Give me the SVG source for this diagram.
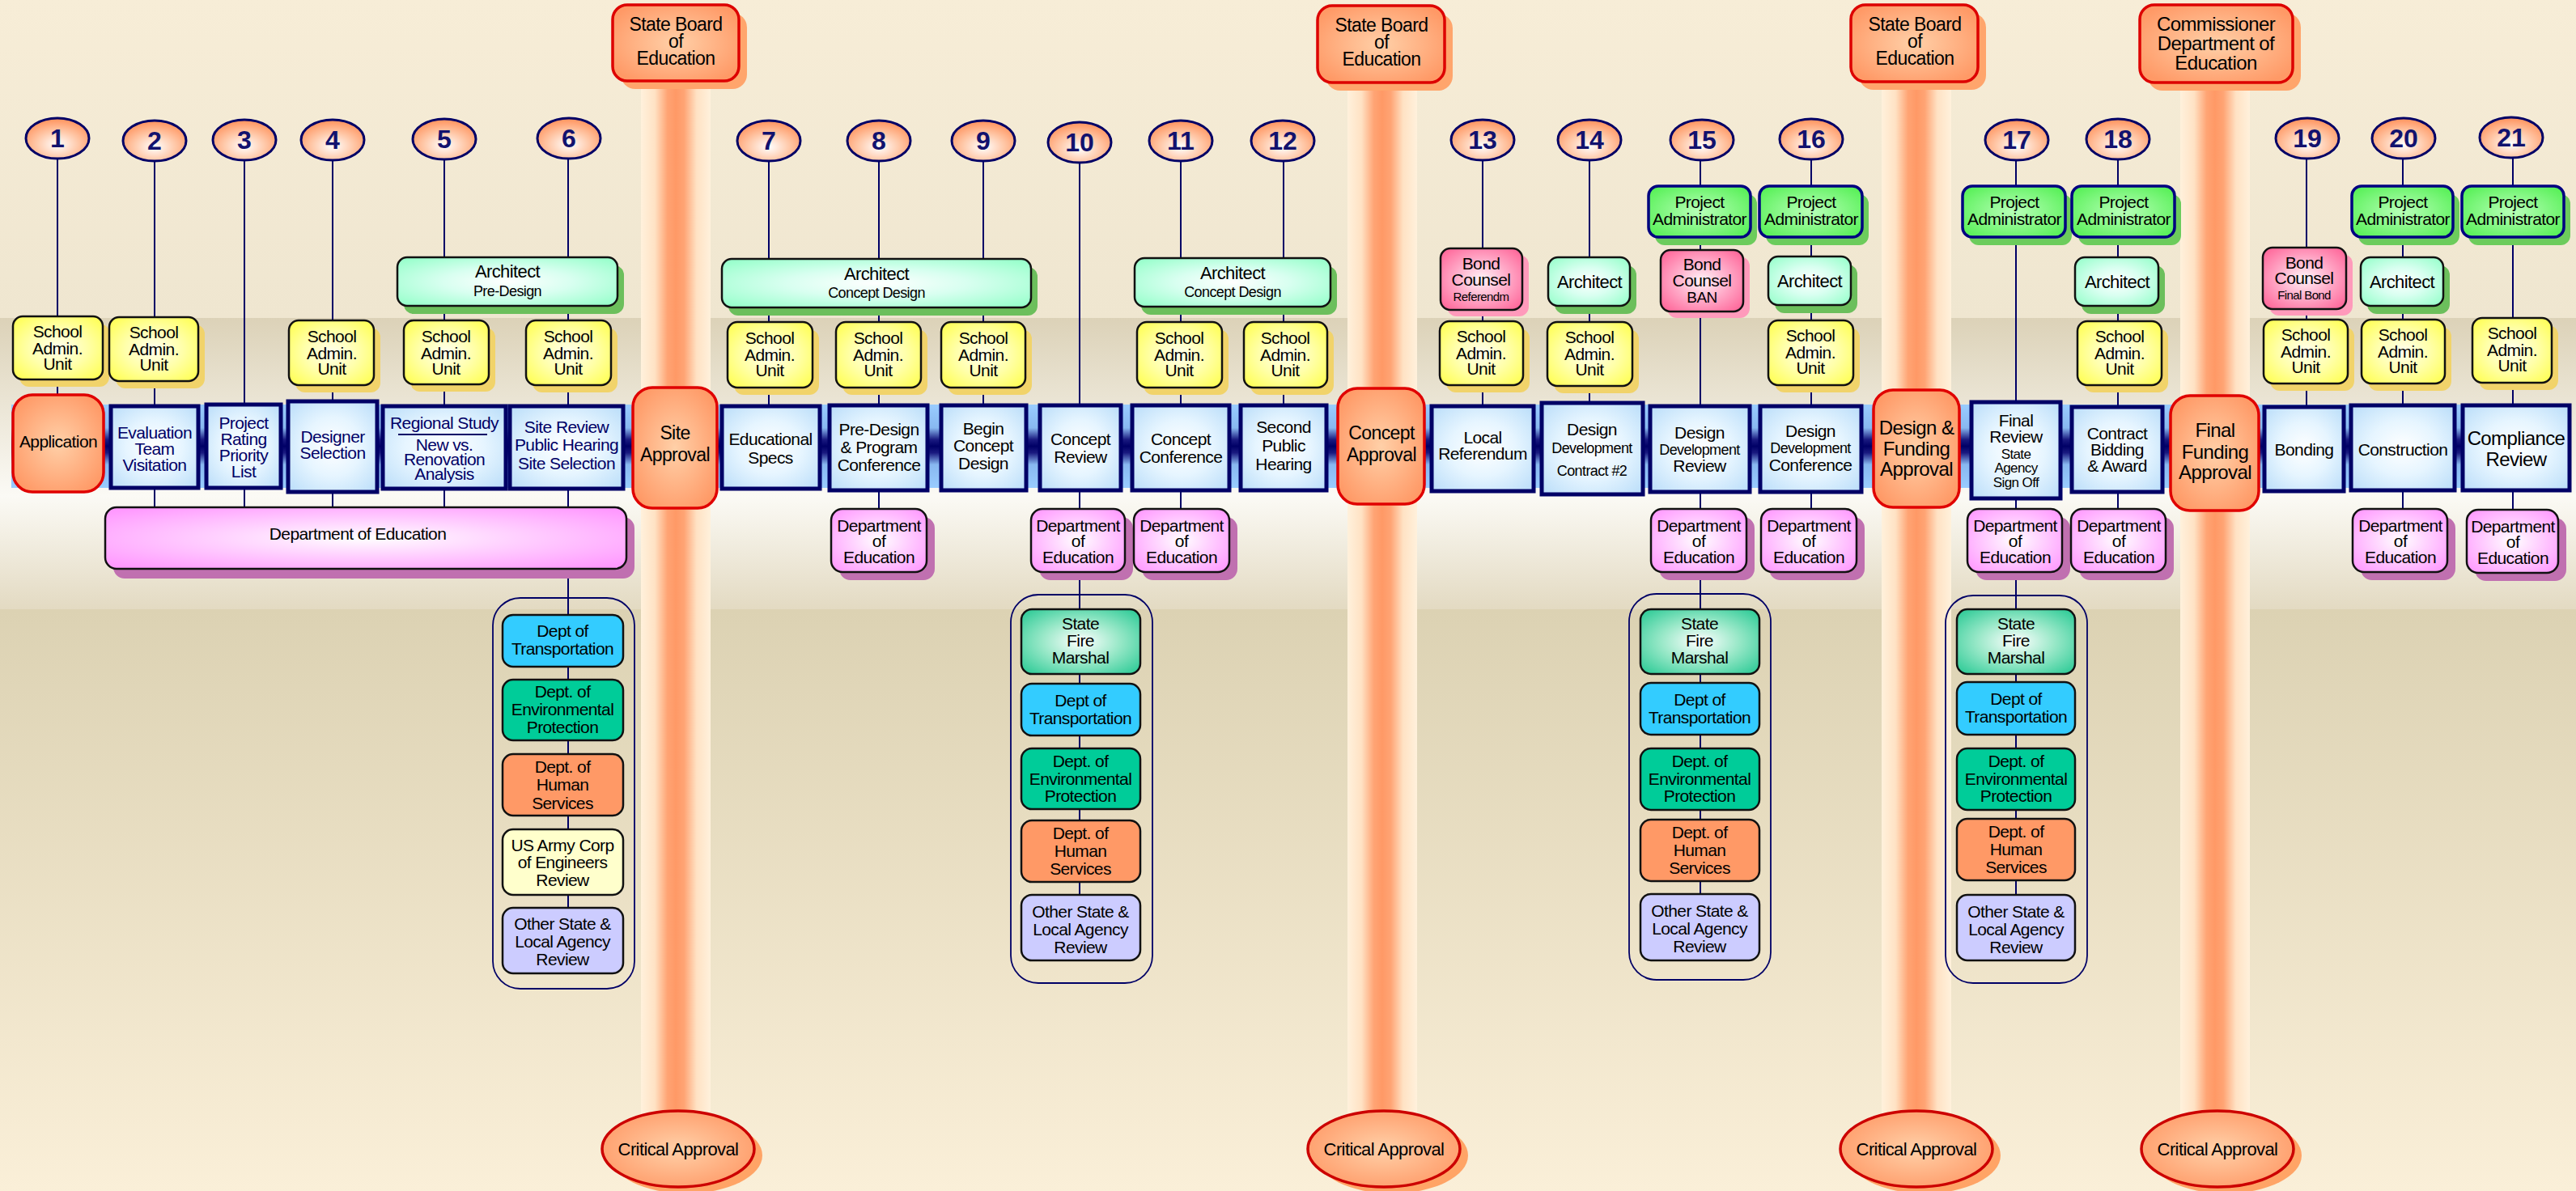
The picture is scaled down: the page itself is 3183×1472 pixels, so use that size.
<svg xmlns="http://www.w3.org/2000/svg" width="3183" height="1472" viewBox="0 0 3183 1472">
<defs>
<linearGradient id="bg1" x1="0" y1="0" x2="0" y2="1"><stop offset="0" stop-color="#f7edd7"/><stop offset="1" stop-color="#efe6d0"/></linearGradient>
<linearGradient id="bg2" x1="0" y1="0" x2="0" y2="1"><stop offset="0" stop-color="#dcd2b8"/><stop offset="1" stop-color="#fbfaf5"/></linearGradient>
<linearGradient id="bg3" x1="0" y1="0" x2="0" y2="1"><stop offset="0" stop-color="#fbfaf5"/><stop offset="1" stop-color="#e3dac2"/></linearGradient>
<linearGradient id="bg4" x1="0" y1="0" x2="0" y2="1"><stop offset="0" stop-color="#dcd2b3"/><stop offset="1" stop-color="#faefd8"/></linearGradient>
<linearGradient id="gPil" x1="0" y1="0" x2="1" y2="0"><stop offset="0" stop-color="#fff1dc"/><stop offset="0.2" stop-color="#ffe2c4"/><stop offset="0.38" stop-color="#ffa474"/><stop offset="0.5" stop-color="#ff9966"/><stop offset="0.62" stop-color="#ffa474"/><stop offset="0.8" stop-color="#ffe2c4"/><stop offset="1" stop-color="#fff1dc"/></linearGradient>
<linearGradient id="gBand" x1="0" y1="0" x2="0" y2="1"><stop offset="0" stop-color="#99ccff"/><stop offset="0.28" stop-color="#88b8f0"/><stop offset="0.42" stop-color="#1a1a80"/><stop offset="0.5" stop-color="#000066"/><stop offset="0.58" stop-color="#1a1a80"/><stop offset="0.72" stop-color="#88b8f0"/><stop offset="1" stop-color="#99ccff"/></linearGradient>
<radialGradient id="gY" cx="0.5" cy="0.5" r="0.65"><stop offset="0" stop-color="#ffffee"/><stop offset="0.5" stop-color="#ffffaa"/><stop offset="1" stop-color="#ffff55"/></radialGradient>
<radialGradient id="gA" cx="0.5" cy="0.5" r="0.65"><stop offset="0" stop-color="#ffffff"/><stop offset="0.45" stop-color="#d8fff0"/><stop offset="1" stop-color="#99ffcc"/></radialGradient>
<radialGradient id="gB" cx="0.5" cy="0.5" r="0.65"><stop offset="0" stop-color="#fff4f8"/><stop offset="0.5" stop-color="#ffaac8"/><stop offset="1" stop-color="#ff6699"/></radialGradient>
<radialGradient id="gP" cx="0.5" cy="0.5" r="0.65"><stop offset="0" stop-color="#b8ffb8"/><stop offset="1" stop-color="#55f055"/></radialGradient>
<radialGradient id="gL" cx="0.5" cy="0.5" r="0.65"><stop offset="0" stop-color="#ffffff"/><stop offset="0.5" stop-color="#e6f5ff"/><stop offset="1" stop-color="#bfe0fa"/></radialGradient>
<radialGradient id="gO" cx="0.5" cy="0.5" r="0.6"><stop offset="0" stop-color="#ffd0a8"/><stop offset="1" stop-color="#ff9966"/></radialGradient>
<radialGradient id="gD" cx="0.5" cy="0.5" r="0.65"><stop offset="0" stop-color="#ffffff"/><stop offset="0.45" stop-color="#ffd0ff"/><stop offset="1" stop-color="#ff99ff"/></radialGradient>
<radialGradient id="gF" cx="0.5" cy="0.5" r="0.65"><stop offset="0" stop-color="#ffffff"/><stop offset="0.5" stop-color="#99e8c8"/><stop offset="1" stop-color="#33cc99"/></radialGradient>
<radialGradient id="gC" cx="0.5" cy="0.65" r="0.6"><stop offset="0" stop-color="#ffffff"/><stop offset="0.55" stop-color="#ffc8a8"/><stop offset="1" stop-color="#ff9966"/></radialGradient>
</defs>
<style>
.t{font-family:"Liberation Sans",Arial,sans-serif;text-anchor:middle;letter-spacing:-0.6px;fill:#000}
.f15{font-size:15px}.f17{font-size:17px}.f18{font-size:18px}.f19{font-size:19px}.f21{font-size:21px}.f22{font-size:22px}.f23{font-size:23px}.f24{font-size:24px}
.nv{fill:#000066}
.num{font-family:"Liberation Sans",Arial,sans-serif;font-weight:bold;font-size:32px;text-anchor:middle;fill:#12126e}
.circ{fill:url(#gC);stroke:#000066;stroke-width:3}
.cn line{stroke:#000066;stroke-width:2}
.sau{fill:url(#gY);stroke:#111;stroke-width:2.5}
.sauS{fill:#f1d36a}
.arc{fill:url(#gA);stroke:#111;stroke-width:2.5}
.arcS{fill:#6cbf5c}
.bnd{fill:url(#gB);stroke:#111;stroke-width:2.5}
.bndS{fill:#ff9abb}
.pa{fill:url(#gP);stroke:#000080;stroke-width:3.5}
.paS{fill:#6ccc5c}
.lane{fill:url(#gL);stroke:#000066;stroke-width:5}
.appr{fill:url(#gO);stroke:#e00000;stroke-width:3.5}
.doe{fill:url(#gD);stroke:#111;stroke-width:2.5}
.doeS{fill:#c070b0}
.box{stroke:#111;stroke-width:2.5}
.cont{fill:none;stroke:#000066;stroke-width:1.8}
.sbe{fill:url(#gO);stroke:#dd0000;stroke-width:3.5}
.sbeS{fill:#ffa56c}
.crit{fill:url(#gO);stroke:#cc0000;stroke-width:3.5}
.critS{fill:#ffa466}
</style>

<!-- background -->
<rect x="0" y="0" width="3183" height="393" fill="url(#bg1)"/>
<rect x="0" y="393" width="3183" height="220" fill="url(#bg2)"/>
<rect x="0" y="613" width="3183" height="140" fill="url(#bg3)"/>
<rect x="0" y="753" width="3183" height="719" fill="url(#bg4)"/>

<!-- approval pillars -->
<g id="pillars">
<rect x="792" y="95" width="86" height="1300" fill="url(#gPil)"/>
<rect x="1665" y="95" width="86" height="1300" fill="url(#gPil)"/>
<rect x="2325" y="95" width="86" height="1300" fill="url(#gPil)"/>
<rect x="2694" y="95" width="86" height="1300" fill="url(#gPil)"/>
</g>

<!-- process lane -->
<rect id="lane-band" x="14" y="500" width="3162" height="103" fill="url(#gBand)"/>

<g id="connectors" class="cn">
<line x1="71" y1="196" x2="71" y2="490"/>
<line x1="191" y1="199" x2="191" y2="628"/>
<line x1="302" y1="198" x2="302" y2="628"/>
<line x1="411" y1="198" x2="411" y2="628"/>
<line x1="549" y1="197" x2="549" y2="628"/>
<line x1="702" y1="196" x2="702" y2="1123"/>
<line x1="950" y1="199" x2="950" y2="503"/>
<line x1="1086" y1="199" x2="1086" y2="630"/>
<line x1="1215" y1="199" x2="1215" y2="502"/>
<line x1="1334" y1="201" x2="1334" y2="1107"/>
<line x1="1459" y1="199" x2="1459" y2="630"/>
<line x1="1586" y1="199" x2="1586" y2="503"/>
<line x1="1832" y1="198" x2="1832" y2="503"/>
<line x1="1964" y1="198" x2="1964" y2="499"/>
<line x1="2101" y1="198" x2="2101" y2="1106"/>
<line x1="2238" y1="197" x2="2238" y2="630"/>
<line x1="2491" y1="198" x2="2491" y2="1107"/>
<line x1="2617" y1="197" x2="2617" y2="630"/>
<line x1="2850" y1="196" x2="2850" y2="504"/>
<line x1="2969" y1="196" x2="2969" y2="630"/>
<line x1="3105" y1="195" x2="3105" y2="631"/>
</g>

<!-- critical approval authorities -->
<g id="sbe1"><rect class="sbeS" x="767" y="16" width="156" height="94" rx="18"/><rect class="sbe" x="757" y="6" width="156" height="94" rx="18"/>
<text class="t f23"><tspan x="835" y="38">State Board</tspan><tspan x="835" y="59">of</tspan><tspan x="835" y="80">Education</tspan></text></g>
<g id="sbe2"><rect class="sbeS" x="1638" y="17" width="157" height="95" rx="18"/><rect class="sbe" x="1628" y="7" width="157" height="95" rx="18"/>
<text class="t f23"><tspan x="1707" y="39">State Board</tspan><tspan x="1707" y="60">of</tspan><tspan x="1707" y="81">Education</tspan></text></g>
<g id="sbe3"><rect class="sbeS" x="2297" y="16" width="157" height="95" rx="18"/><rect class="sbe" x="2287" y="6" width="157" height="95" rx="18"/>
<text class="t f23"><tspan x="2366" y="38">State Board</tspan><tspan x="2366" y="59">of</tspan><tspan x="2366" y="80">Education</tspan></text></g>
<g id="commissioner"><rect class="sbeS" x="2654" y="16" width="189" height="96" rx="18"/><rect class="sbe" x="2644" y="6" width="189" height="96" rx="18"/>
<text class="t f24"><tspan x="2738" y="38">Commissioner</tspan><tspan x="2738" y="62">Department of</tspan><tspan x="2738" y="86">Education</tspan></text></g>

<g id="crit1"><ellipse class="critS" cx="848" cy="1428" rx="94" ry="47"/><ellipse class="crit" cx="838" cy="1420" rx="94" ry="47"/><text class="t f22" x="838" y="1428">Critical Approval</text></g>
<g id="crit2"><ellipse class="critS" cx="1720" cy="1428" rx="94" ry="47"/><ellipse class="crit" cx="1710" cy="1420" rx="94" ry="47"/><text class="t f22" x="1710" y="1428">Critical Approval</text></g>
<g id="crit3"><ellipse class="critS" cx="2378" cy="1428" rx="94" ry="47"/><ellipse class="crit" cx="2368" cy="1420" rx="94" ry="47"/><text class="t f22" x="2368" y="1428">Critical Approval</text></g>
<g id="crit4"><ellipse class="critS" cx="2750" cy="1428" rx="94" ry="47"/><ellipse class="crit" cx="2740" cy="1420" rx="94" ry="47"/><text class="t f22" x="2740" y="1428">Critical Approval</text></g>

<!-- step numbers -->
<g id="step1"><ellipse class="circ" cx="71" cy="171" rx="39" ry="25"/><text class="num" x="71" y="182">1</text></g>
<g id="step2"><ellipse class="circ" cx="191" cy="174" rx="39" ry="25"/><text class="num" x="191" y="185">2</text></g>
<g id="step3"><ellipse class="circ" cx="302" cy="173" rx="39" ry="25"/><text class="num" x="302" y="184">3</text></g>
<g id="step4"><ellipse class="circ" cx="411" cy="173" rx="39" ry="25"/><text class="num" x="411" y="184">4</text></g>
<g id="step5"><ellipse class="circ" cx="549" cy="172" rx="39" ry="25"/><text class="num" x="549" y="183">5</text></g>
<g id="step6"><ellipse class="circ" cx="703" cy="171" rx="39" ry="25"/><text class="num" x="703" y="182">6</text></g>
<g id="step7"><ellipse class="circ" cx="950" cy="174" rx="39" ry="25"/><text class="num" x="950" y="185">7</text></g>
<g id="step8"><ellipse class="circ" cx="1086" cy="174" rx="39" ry="25"/><text class="num" x="1086" y="185">8</text></g>
<g id="step9"><ellipse class="circ" cx="1215" cy="174" rx="39" ry="25"/><text class="num" x="1215" y="185">9</text></g>
<g id="step10"><ellipse class="circ" cx="1334" cy="176" rx="39" ry="25"/><text class="num" x="1334" y="187">10</text></g>
<g id="step11"><ellipse class="circ" cx="1459" cy="174" rx="39" ry="25"/><text class="num" x="1459" y="185">11</text></g>
<g id="step12"><ellipse class="circ" cx="1585" cy="174" rx="39" ry="25"/><text class="num" x="1585" y="185">12</text></g>
<g id="step13"><ellipse class="circ" cx="1832" cy="173" rx="39" ry="25"/><text class="num" x="1832" y="184">13</text></g>
<g id="step14"><ellipse class="circ" cx="1964" cy="173" rx="39" ry="25"/><text class="num" x="1964" y="184">14</text></g>
<g id="step15"><ellipse class="circ" cx="2103" cy="173" rx="39" ry="25"/><text class="num" x="2103" y="184">15</text></g>
<g id="step16"><ellipse class="circ" cx="2238" cy="172" rx="39" ry="25"/><text class="num" x="2238" y="183">16</text></g>
<g id="step17"><ellipse class="circ" cx="2492" cy="173" rx="39" ry="25"/><text class="num" x="2492" y="184">17</text></g>
<g id="step18"><ellipse class="circ" cx="2617" cy="172" rx="39" ry="25"/><text class="num" x="2617" y="183">18</text></g>
<g id="step19"><ellipse class="circ" cx="2851" cy="171" rx="39" ry="25"/><text class="num" x="2851" y="182">19</text></g>
<g id="step20"><ellipse class="circ" cx="2970" cy="171" rx="39" ry="25"/><text class="num" x="2970" y="182">20</text></g>
<g id="step21"><ellipse class="circ" cx="3103" cy="170" rx="39" ry="25"/><text class="num" x="3103" y="181">21</text></g>

<!-- project administrators -->
<g id="pa15"><rect class="paS" x="2045" y="240" width="126" height="63" rx="12"/><rect class="pa" x="2037" y="230" width="126" height="63" rx="12"/><text class="t f21"><tspan x="2100" y="257">Project</tspan><tspan x="2100" y="278">Administrator</tspan></text></g>
<g id="pa16"><rect class="paS" x="2182" y="240" width="127" height="63" rx="12"/><rect class="pa" x="2174" y="230" width="127" height="63" rx="12"/><text class="t f21"><tspan x="2238" y="257">Project</tspan><tspan x="2238" y="278">Administrator</tspan></text></g>
<g id="pa17"><rect class="paS" x="2433" y="240" width="127" height="63" rx="12"/><rect class="pa" x="2425" y="230" width="127" height="63" rx="12"/><text class="t f21"><tspan x="2489" y="257">Project</tspan><tspan x="2489" y="278">Administrator</tspan></text></g>
<g id="pa18"><rect class="paS" x="2568" y="240" width="127" height="63" rx="12"/><rect class="pa" x="2560" y="230" width="127" height="63" rx="12"/><text class="t f21"><tspan x="2624" y="257">Project</tspan><tspan x="2624" y="278">Administrator</tspan></text></g>
<g id="pa20"><rect class="paS" x="2914" y="240" width="125" height="63" rx="12"/><rect class="pa" x="2906" y="230" width="125" height="63" rx="12"/><text class="t f21"><tspan x="2969" y="257">Project</tspan><tspan x="2969" y="278">Administrator</tspan></text></g>
<g id="pa21"><rect class="paS" x="3050" y="240" width="126" height="63" rx="12"/><rect class="pa" x="3042" y="230" width="126" height="63" rx="12"/><text class="t f21"><tspan x="3105" y="257">Project</tspan><tspan x="3105" y="278">Administrator</tspan></text></g>

<!-- bond counsel -->
<g id="bond13"><rect class="bndS" x="1788" y="315" width="101" height="76" rx="12"/><rect class="bnd" x="1780" y="307" width="101" height="76" rx="12"/><text class="t"><tspan class="f21" x="1830" y="333">Bond</tspan><tspan class="f21" x="1830" y="353">Counsel</tspan><tspan class="f15" x="1830" y="372">Referendm</tspan></text></g>
<g id="bond15"><rect class="bndS" x="2060" y="317" width="102" height="76" rx="12"/><rect class="bnd" x="2052" y="309" width="102" height="76" rx="12"/><text class="t"><tspan class="f21" x="2103" y="334">Bond</tspan><tspan class="f21" x="2103" y="354">Counsel</tspan><tspan class="f19" x="2103" y="374">BAN</tspan></text></g>
<g id="bond19"><rect class="bndS" x="2804" y="314" width="103" height="76" rx="12"/><rect class="bnd" x="2796" y="306" width="103" height="76" rx="12"/><text class="t"><tspan class="f21" x="2847" y="332">Bond</tspan><tspan class="f21" x="2847" y="351">Counsel</tspan><tspan class="f15" x="2847" y="370">Final Bond</tspan></text></g>

<!-- architects -->
<g id="arch-predesign"><rect class="arcS" x="499" y="328" width="272" height="60" rx="12"/><rect class="arc" x="491" y="318" width="272" height="60" rx="12"/><text class="t"><tspan class="f22" x="627" y="343">Architect</tspan><tspan class="f18" x="627" y="366">Pre-Design</tspan></text></g>
<g id="arch-concept1"><rect class="arcS" x="900" y="330" width="382" height="60" rx="12"/><rect class="arc" x="892" y="320" width="382" height="60" rx="12"/><text class="t"><tspan class="f22" x="1083" y="346">Architect</tspan><tspan class="f18" x="1083" y="368">Concept Design</tspan></text></g>
<g id="arch-concept2"><rect class="arcS" x="1410" y="329" width="242" height="60" rx="12"/><rect class="arc" x="1402" y="319" width="242" height="60" rx="12"/><text class="t"><tspan class="f22" x="1523" y="345">Architect</tspan><tspan class="f18" x="1523" y="367">Concept Design</tspan></text></g>
<g id="arch14"><rect class="arcS" x="1921" y="328" width="101" height="60" rx="12"/><rect class="arc" x="1913" y="318" width="101" height="60" rx="12"/><text class="t f22" x="1964" y="356">Architect</text></g>
<g id="arch16"><rect class="arcS" x="2193" y="327" width="102" height="60" rx="12"/><rect class="arc" x="2185" y="317" width="102" height="60" rx="12"/><text class="t f22" x="2236" y="355">Architect</text></g>
<g id="arch18"><rect class="arcS" x="2572" y="328" width="103" height="60" rx="12"/><rect class="arc" x="2564" y="318" width="103" height="60" rx="12"/><text class="t f22" x="2616" y="356">Architect</text></g>
<g id="arch20"><rect class="arcS" x="2925" y="328" width="102" height="60" rx="12"/><rect class="arc" x="2917" y="318" width="102" height="60" rx="12"/><text class="t f22" x="2968" y="356">Architect</text></g>

<!-- school administrative units -->
<g id="sau1"><rect class="sauS" x="24" y="400" width="111" height="78" rx="12"/><rect class="sau" x="16" y="391" width="111" height="78" rx="12"/><text class="t f21"><tspan x="71" y="417">School</tspan><tspan x="71" y="438">Admin.</tspan><tspan x="71" y="457">Unit</tspan></text></g>
<g id="sau2"><rect class="sauS" x="143" y="401" width="110" height="79" rx="12"/><rect class="sau" x="135" y="392" width="110" height="79" rx="12"/><text class="t f21"><tspan x="190" y="418">School</tspan><tspan x="190" y="439">Admin.</tspan><tspan x="190" y="458">Unit</tspan></text></g>
<g id="sau4"><rect class="sauS" x="365" y="405" width="105" height="80" rx="12"/><rect class="sau" x="357" y="396" width="105" height="80" rx="12"/><text class="t f21"><tspan x="410" y="423">School</tspan><tspan x="410" y="444">Admin.</tspan><tspan x="410" y="463">Unit</tspan></text></g>
<g id="sau5"><rect class="sauS" x="507" y="405" width="105" height="79" rx="12"/><rect class="sau" x="499" y="396" width="105" height="79" rx="12"/><text class="t f21"><tspan x="551" y="423">School</tspan><tspan x="551" y="444">Admin.</tspan><tspan x="551" y="463">Unit</tspan></text></g>
<g id="sau6"><rect class="sauS" x="658" y="405" width="105" height="80" rx="12"/><rect class="sau" x="650" y="396" width="105" height="80" rx="12"/><text class="t f21"><tspan x="702" y="423">School</tspan><tspan x="702" y="444">Admin.</tspan><tspan x="702" y="463">Unit</tspan></text></g>
<g id="sau7"><rect class="sauS" x="907" y="407" width="105" height="81" rx="12"/><rect class="sau" x="899" y="398" width="105" height="81" rx="12"/><text class="t f21"><tspan x="951" y="425">School</tspan><tspan x="951" y="446">Admin.</tspan><tspan x="951" y="465">Unit</tspan></text></g>
<g id="sau8"><rect class="sauS" x="1041" y="407" width="105" height="81" rx="12"/><rect class="sau" x="1033" y="398" width="105" height="81" rx="12"/><text class="t f21"><tspan x="1085" y="425">School</tspan><tspan x="1085" y="446">Admin.</tspan><tspan x="1085" y="465">Unit</tspan></text></g>
<g id="sau9"><rect class="sauS" x="1171" y="407" width="104" height="81" rx="12"/><rect class="sau" x="1163" y="398" width="104" height="81" rx="12"/><text class="t f21"><tspan x="1215" y="425">School</tspan><tspan x="1215" y="446">Admin.</tspan><tspan x="1215" y="465">Unit</tspan></text></g>
<g id="sau11"><rect class="sauS" x="1413" y="407" width="105" height="81" rx="12"/><rect class="sau" x="1405" y="398" width="105" height="81" rx="12"/><text class="t f21"><tspan x="1457" y="425">School</tspan><tspan x="1457" y="446">Admin.</tspan><tspan x="1457" y="465">Unit</tspan></text></g>
<g id="sau12"><rect class="sauS" x="1545" y="407" width="103" height="81" rx="12"/><rect class="sau" x="1537" y="398" width="103" height="81" rx="12"/><text class="t f21"><tspan x="1588" y="425">School</tspan><tspan x="1588" y="446">Admin.</tspan><tspan x="1588" y="465">Unit</tspan></text></g>
<g id="sau13"><rect class="sauS" x="1787" y="406" width="103" height="79" rx="12"/><rect class="sau" x="1779" y="397" width="103" height="79" rx="12"/><text class="t f21"><tspan x="1830" y="423">School</tspan><tspan x="1830" y="444">Admin.</tspan><tspan x="1830" y="463">Unit</tspan></text></g>
<g id="sau14"><rect class="sauS" x="1920" y="407" width="105" height="79" rx="12"/><rect class="sau" x="1912" y="398" width="105" height="79" rx="12"/><text class="t f21"><tspan x="1964" y="424">School</tspan><tspan x="1964" y="445">Admin.</tspan><tspan x="1964" y="464">Unit</tspan></text></g>
<g id="sau16"><rect class="sauS" x="2193" y="405" width="105" height="80" rx="12"/><rect class="sau" x="2185" y="396" width="105" height="80" rx="12"/><text class="t f21"><tspan x="2237" y="422">School</tspan><tspan x="2237" y="443">Admin.</tspan><tspan x="2237" y="462">Unit</tspan></text></g>
<g id="sau18"><rect class="sauS" x="2575" y="406" width="104" height="79" rx="12"/><rect class="sau" x="2567" y="397" width="104" height="79" rx="12"/><text class="t f21"><tspan x="2619" y="423">School</tspan><tspan x="2619" y="444">Admin.</tspan><tspan x="2619" y="463">Unit</tspan></text></g>
<g id="sau19"><rect class="sauS" x="2805" y="404" width="104" height="79" rx="12"/><rect class="sau" x="2797" y="395" width="104" height="79" rx="12"/><text class="t f21"><tspan x="2849" y="421">School</tspan><tspan x="2849" y="442">Admin.</tspan><tspan x="2849" y="461">Unit</tspan></text></g>
<g id="sau20"><rect class="sauS" x="2926" y="404" width="103" height="79" rx="12"/><rect class="sau" x="2918" y="395" width="103" height="79" rx="12"/><text class="t f21"><tspan x="2969" y="421">School</tspan><tspan x="2969" y="442">Admin.</tspan><tspan x="2969" y="461">Unit</tspan></text></g>
<g id="sau21"><rect class="sauS" x="3063" y="402" width="98" height="80" rx="12"/><rect class="sau" x="3055" y="393" width="98" height="80" rx="12"/><text class="t f21"><tspan x="3104" y="419">School</tspan><tspan x="3104" y="440">Admin.</tspan><tspan x="3104" y="459">Unit</tspan></text></g>

<!-- approvals on the lane -->
<g id="application"><rect class="appr" x="16" y="488" width="112" height="120" rx="24"/><text class="t f21" x="72" y="553">Application</text></g>
<g id="site-approval"><rect class="appr" x="782" y="479" width="104" height="149" rx="24"/><text class="t f23"><tspan x="834" y="543">Site</tspan><tspan x="834" y="570">Approval</tspan></text></g>
<g id="concept-approval"><rect class="appr" x="1653" y="480" width="107" height="143" rx="24"/><text class="t f23"><tspan x="1707" y="543">Concept</tspan><tspan x="1707" y="570">Approval</tspan></text></g>
<g id="design-funding-approval"><rect class="appr" x="2315" y="482" width="106" height="145" rx="24"/><text class="t f24"><tspan x="2368" y="537">Design &amp;</tspan><tspan x="2368" y="563">Funding</tspan><tspan x="2368" y="588">Approval</tspan></text></g>
<g id="final-funding-approval"><rect class="appr" x="2682" y="489" width="109" height="142" rx="24"/><text class="t f24"><tspan x="2737" y="540">Final</tspan><tspan x="2737" y="567">Funding</tspan><tspan x="2737" y="592">Approval</tspan></text></g>

<!-- lane process steps -->
<g id="evaluation"><rect class="lane" x="137" y="502" width="108" height="101"/><text class="t f21 nv"><tspan x="191" y="542">Evaluation</tspan><tspan x="191" y="562">Team</tspan><tspan x="191" y="582">Visitation</tspan></text></g>
<g id="priority-list"><rect class="lane" x="255" y="500" width="92" height="103"/><text class="t f21 nv"><tspan x="301" y="530">Project</tspan><tspan x="301" y="550">Rating</tspan><tspan x="301" y="570">Priority</tspan><tspan x="301" y="590">List</tspan></text></g>
<g id="designer-selection"><rect class="lane" x="356" y="496" width="110" height="112"/><text class="t f21 nv"><tspan x="411" y="547">Designer</tspan><tspan x="411" y="567">Selection</tspan></text></g>
<g id="regional-study"><rect class="lane" x="473" y="502" width="152" height="102"/><text class="t f21 nv"><tspan x="549" y="530">Regional Study</tspan><tspan x="549" y="557">New vs.</tspan><tspan x="549" y="575">Renovation</tspan><tspan x="549" y="593">Analysis</tspan></text><line x1="492" y1="537" x2="602" y2="537" stroke="#000066" stroke-width="2"/></g>
<g id="site-review"><rect class="lane" x="630" y="502" width="140" height="102"/><text class="t f21 nv"><tspan x="700" y="535">Site Review</tspan><tspan x="700" y="557">Public Hearing</tspan><tspan x="700" y="580">Site Selection</tspan></text></g>
<g id="educational-specs"><rect class="lane" x="892" y="502" width="121" height="102"/><text class="t f21"><tspan x="952" y="550">Educational</tspan><tspan x="952" y="573">Specs</tspan></text></g>
<g id="pre-design"><rect class="lane" x="1025" y="501" width="121" height="105"/><text class="t f21"><tspan x="1086" y="538">Pre-Design</tspan><tspan x="1086" y="560">&amp; Program</tspan><tspan x="1086" y="582">Conference</tspan></text></g>
<g id="begin-concept"><rect class="lane" x="1163" y="501" width="105" height="105"/><text class="t f21"><tspan x="1215" y="537">Begin</tspan><tspan x="1215" y="558">Concept</tspan><tspan x="1215" y="580">Design</tspan></text></g>
<g id="concept-review"><rect class="lane" x="1285" y="501" width="100" height="105"/><text class="t f21"><tspan x="1335" y="550">Concept</tspan><tspan x="1335" y="572">Review</tspan></text></g>
<g id="concept-conference"><rect class="lane" x="1399" y="501" width="120" height="105"/><text class="t f21"><tspan x="1459" y="550">Concept</tspan><tspan x="1459" y="572">Conference</tspan></text></g>
<g id="second-hearing"><rect class="lane" x="1533" y="501" width="106" height="105"/><text class="t f21"><tspan x="1586" y="535">Second</tspan><tspan x="1586" y="558">Public</tspan><tspan x="1586" y="581">Hearing</tspan></text></g>
<g id="local-referendum"><rect class="lane" x="1769" y="502" width="126" height="105"/><text class="t f21"><tspan x="1832" y="548">Local</tspan><tspan x="1832" y="568">Referendum</tspan></text></g>
<g id="dd-contract"><rect class="lane" x="1905" y="498" width="125" height="113"/><text class="t"><tspan class="f21" x="1967" y="538">Design</tspan><tspan class="f18" x="1967" y="560">Development</tspan><tspan class="f18" x="1967" y="588">Contract #2</tspan></text></g>
<g id="dd-review"><rect class="lane" x="2039" y="502" width="123" height="106"/><text class="t"><tspan class="f21" x="2100" y="542">Design</tspan><tspan class="f18" x="2100" y="562">Development</tspan><tspan class="f21" x="2100" y="583">Review</tspan></text></g>
<g id="dd-conference"><rect class="lane" x="2175" y="502" width="125" height="106"/><text class="t"><tspan class="f21" x="2237" y="540">Design</tspan><tspan class="f18" x="2237" y="560">Development</tspan><tspan class="f21" x="2237" y="582">Conference</tspan></text></g>
<g id="final-review"><rect class="lane" x="2436" y="497" width="110" height="119"/><text class="t"><tspan class="f21" x="2491" y="527">Final</tspan><tspan class="f21" x="2491" y="547">Review</tspan><tspan class="f17" x="2491" y="567">State</tspan><tspan class="f17" x="2491" y="584">Agency</tspan><tspan class="f17" x="2491" y="602">Sign Off</tspan></text></g>
<g id="contract-bidding"><rect class="lane" x="2560" y="503" width="112" height="105"/><text class="t f21"><tspan x="2616" y="543">Contract</tspan><tspan x="2616" y="563">Bidding</tspan><tspan x="2616" y="583">&amp; Award</tspan></text></g>
<g id="bonding"><rect class="lane" x="2798" y="503" width="98" height="104"/><text class="t f21" x="2847" y="563">Bonding</text></g>
<g id="construction"><rect class="lane" x="2905" y="501" width="128" height="105"/><text class="t f21" x="2969" y="563">Construction</text></g>
<g id="compliance-review"><rect class="lane" x="3043" y="501" width="132" height="105"/><text class="t f24"><tspan x="3109" y="550">Compliance</tspan><tspan x="3109" y="576">Review</tspan></text></g>

<!-- Department of Education -->
<g id="doe-main"><rect class="doeS" x="140" y="639" width="644" height="76" rx="14"/><rect class="doe" x="130" y="627" width="644" height="76" rx="14"/><text class="t f21" x="442" y="667">Department of Education</text></g>
<g id="doe8"><rect class="doeS" x="1037" y="639" width="118" height="78" rx="14"/><rect class="doe" x="1027" y="629" width="118" height="78" rx="14"/><text class="t f21"><tspan x="1086" y="657">Department</tspan><tspan x="1086" y="676">of</tspan><tspan x="1086" y="696">Education</tspan></text></g>
<g id="doe10"><rect class="doeS" x="1284" y="639" width="116" height="78" rx="14"/><rect class="doe" x="1274" y="629" width="116" height="78" rx="14"/><text class="t f21"><tspan x="1332" y="657">Department</tspan><tspan x="1332" y="676">of</tspan><tspan x="1332" y="696">Education</tspan></text></g>
<g id="doe11"><rect class="doeS" x="1411" y="639" width="118" height="78" rx="14"/><rect class="doe" x="1401" y="629" width="118" height="78" rx="14"/><text class="t f21"><tspan x="1460" y="657">Department</tspan><tspan x="1460" y="676">of</tspan><tspan x="1460" y="696">Education</tspan></text></g>
<g id="doe15"><rect class="doeS" x="2050" y="639" width="118" height="78" rx="14"/><rect class="doe" x="2040" y="629" width="118" height="78" rx="14"/><text class="t f21"><tspan x="2099" y="657">Department</tspan><tspan x="2099" y="676">of</tspan><tspan x="2099" y="696">Education</tspan></text></g>
<g id="doe16"><rect class="doeS" x="2186" y="639" width="118" height="78" rx="14"/><rect class="doe" x="2176" y="629" width="118" height="78" rx="14"/><text class="t f21"><tspan x="2235" y="657">Department</tspan><tspan x="2235" y="676">of</tspan><tspan x="2235" y="696">Education</tspan></text></g>
<g id="doe17"><rect class="doeS" x="2441" y="639" width="117" height="78" rx="14"/><rect class="doe" x="2431" y="629" width="117" height="78" rx="14"/><text class="t f21"><tspan x="2490" y="657">Department</tspan><tspan x="2490" y="676">of</tspan><tspan x="2490" y="696">Education</tspan></text></g>
<g id="doe18"><rect class="doeS" x="2569" y="639" width="117" height="78" rx="14"/><rect class="doe" x="2559" y="629" width="117" height="78" rx="14"/><text class="t f21"><tspan x="2618" y="657">Department</tspan><tspan x="2618" y="676">of</tspan><tspan x="2618" y="696">Education</tspan></text></g>
<g id="doe20"><rect class="doeS" x="2917" y="639" width="117" height="78" rx="14"/><rect class="doe" x="2907" y="629" width="117" height="78" rx="14"/><text class="t f21"><tspan x="2966" y="657">Department</tspan><tspan x="2966" y="676">of</tspan><tspan x="2966" y="696">Education</tspan></text></g>
<g id="doe21"><rect class="doeS" x="3058" y="640" width="113" height="78" rx="14"/><rect class="doe" x="3048" y="630" width="113" height="78" rx="14"/><text class="t f21"><tspan x="3105" y="658">Department</tspan><tspan x="3105" y="677">of</tspan><tspan x="3105" y="697">Education</tspan></text></g>

<!-- agency review stacks -->
<g id="stack-site">
<rect class="cont" x="609" y="739" width="175" height="483" rx="34"/>
<rect class="box" fill="#33ccff" x="621" y="760" width="149" height="64" rx="13"/><text class="t f21"><tspan x="695" y="787">Dept of</tspan><tspan x="695" y="809">Transportation</tspan></text>
<rect class="box" fill="#00cc99" x="621" y="840" width="149" height="75" rx="13"/><text class="t f21"><tspan x="695" y="862">Dept. of</tspan><tspan x="695" y="884">Environmental</tspan><tspan x="695" y="906">Protection</tspan></text>
<rect class="box" fill="#ff9966" x="621" y="932" width="149" height="76" rx="13"/><text class="t f21"><tspan x="695" y="955">Dept. of</tspan><tspan x="695" y="977">Human</tspan><tspan x="695" y="1000">Services</tspan></text>
<rect class="box" fill="#ffffcc" x="621" y="1025" width="149" height="81" rx="13"/><text class="t f21"><tspan x="695" y="1052">US Army Corp</tspan><tspan x="695" y="1073">of Engineers</tspan><tspan x="695" y="1095">Review</tspan></text>
<rect class="box" fill="#ccccff" x="621" y="1122" width="149" height="81" rx="13"/><text class="t f21"><tspan x="695" y="1149">Other State &amp;</tspan><tspan x="695" y="1171">Local Agency</tspan><tspan x="695" y="1193">Review</tspan></text>
</g>
<g id="stack-concept">
<rect class="cont" x="1249" y="735" width="175" height="480" rx="34"/>
<rect class="box" fill="url(#gF)" x="1262" y="753" width="147" height="80" rx="13"/><text class="t f21"><tspan x="1335" y="778">State</tspan><tspan x="1335" y="799">Fire</tspan><tspan x="1335" y="820">Marshal</tspan></text>
<rect class="box" fill="#33ccff" x="1262" y="845" width="147" height="64" rx="13"/><text class="t f21"><tspan x="1335" y="873">Dept of</tspan><tspan x="1335" y="895">Transportation</tspan></text>
<rect class="box" fill="#00cc99" x="1262" y="925" width="147" height="75" rx="13"/><text class="t f21"><tspan x="1335" y="948">Dept. of</tspan><tspan x="1335" y="970">Environmental</tspan><tspan x="1335" y="991">Protection</tspan></text>
<rect class="box" fill="#ff9966" x="1262" y="1014" width="147" height="76" rx="13"/><text class="t f21"><tspan x="1335" y="1037">Dept. of</tspan><tspan x="1335" y="1059">Human</tspan><tspan x="1335" y="1081">Services</tspan></text>
<rect class="box" fill="#ccccff" x="1262" y="1106" width="147" height="81" rx="13"/><text class="t f21"><tspan x="1335" y="1134">Other State &amp;</tspan><tspan x="1335" y="1156">Local Agency</tspan><tspan x="1335" y="1178">Review</tspan></text>
</g>
<g id="stack-dd">
<rect class="cont" x="2013" y="734" width="175" height="477" rx="34"/>
<rect class="box" fill="url(#gF)" x="2027" y="753" width="147" height="80" rx="13"/><text class="t f21"><tspan x="2100" y="778">State</tspan><tspan x="2100" y="799">Fire</tspan><tspan x="2100" y="820">Marshal</tspan></text>
<rect class="box" fill="#33ccff" x="2027" y="844" width="147" height="64" rx="13"/><text class="t f21"><tspan x="2100" y="872">Dept of</tspan><tspan x="2100" y="894">Transportation</tspan></text>
<rect class="box" fill="#00cc99" x="2027" y="925" width="147" height="76" rx="13"/><text class="t f21"><tspan x="2100" y="948">Dept. of</tspan><tspan x="2100" y="970">Environmental</tspan><tspan x="2100" y="991">Protection</tspan></text>
<rect class="box" fill="#ff9966" x="2027" y="1013" width="147" height="76" rx="13"/><text class="t f21"><tspan x="2100" y="1036">Dept. of</tspan><tspan x="2100" y="1058">Human</tspan><tspan x="2100" y="1080">Services</tspan></text>
<rect class="box" fill="#ccccff" x="2027" y="1105" width="147" height="82" rx="13"/><text class="t f21"><tspan x="2100" y="1133">Other State &amp;</tspan><tspan x="2100" y="1155">Local Agency</tspan><tspan x="2100" y="1177">Review</tspan></text>
</g>
<g id="stack-final">
<rect class="cont" x="2404" y="736" width="175" height="479" rx="34"/>
<rect class="box" fill="url(#gF)" x="2418" y="753" width="146" height="80" rx="13"/><text class="t f21"><tspan x="2491" y="778">State</tspan><tspan x="2491" y="799">Fire</tspan><tspan x="2491" y="820">Marshal</tspan></text>
<rect class="box" fill="#33ccff" x="2418" y="843" width="146" height="65" rx="13"/><text class="t f21"><tspan x="2491" y="871">Dept of</tspan><tspan x="2491" y="893">Transportation</tspan></text>
<rect class="box" fill="#00cc99" x="2418" y="925" width="146" height="76" rx="13"/><text class="t f21"><tspan x="2491" y="948">Dept. of</tspan><tspan x="2491" y="970">Environmental</tspan><tspan x="2491" y="991">Protection</tspan></text>
<rect class="box" fill="#ff9966" x="2418" y="1012" width="146" height="76" rx="13"/><text class="t f21"><tspan x="2491" y="1035">Dept. of</tspan><tspan x="2491" y="1057">Human</tspan><tspan x="2491" y="1079">Services</tspan></text>
<rect class="box" fill="#ccccff" x="2418" y="1106" width="146" height="81" rx="13"/><text class="t f21"><tspan x="2491" y="1134">Other State &amp;</tspan><tspan x="2491" y="1156">Local Agency</tspan><tspan x="2491" y="1178">Review</tspan></text>
</g>
</svg>
